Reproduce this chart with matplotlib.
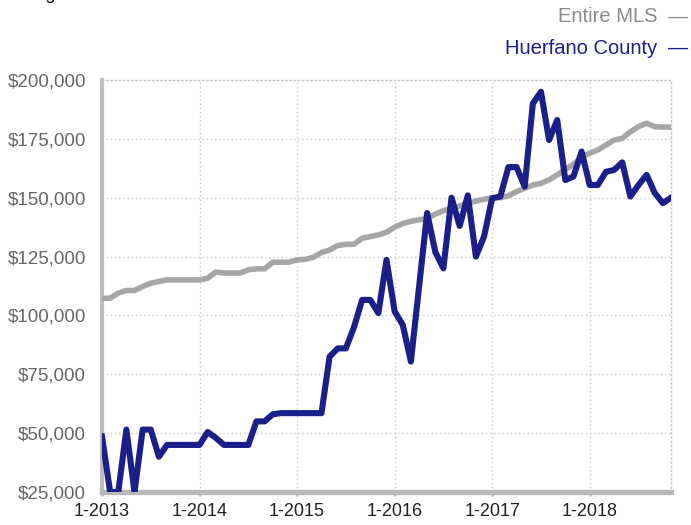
import numpy as np
import matplotlib
matplotlib.use("Agg")
import matplotlib.pyplot as plt
from matplotlib.ticker import FuncFormatter

plt.rcParams['font.family'] = ['Liberation Sans', 'DejaVu Sans']

# monthly values, 1-2013 .. 11-2018
entireMLS = [107300, 107300, 109500, 110600, 110600, 112300, 113700, 114400, 115100, 115100, 115100, 115100,
             115100, 115800, 118400, 118000, 118000, 118000, 119400, 119800, 119800, 122600, 122600, 122600,
             123600, 123800, 124700, 126700, 127800, 129700, 130200, 130200, 132800, 133500, 134200, 135300,
             137500, 139000, 140000, 140600, 141300, 143000, 144500, 145500, 146500, 147600, 148600, 149300,
             150000, 150000, 150800, 152600, 154000, 155400, 156100, 157600, 159700, 162000, 164200, 167200,
             168900, 170300, 172400, 174500, 175200, 178000, 180200, 181600, 180200, 180000, 180000]
huerfano = [48600, 25000, 25000, 51500, 25000, 51500, 51500, 40000, 45000, 45000, 45000, 45000,
            45000, 50500, 48000, 45000, 45000, 45000, 45000, 55000, 55000, 58000, 58500, 58500,
            58500, 58500, 58500, 58500, 82500, 86000, 86000, 95000, 106600, 106600, 101000, 123600,
            101700, 96000, 80400, 112000, 143500, 127000, 120000, 150000, 138000, 151000, 125000, 133500,
            149800, 150500, 163000, 163000, 154700, 190000, 195000, 174500, 183000, 157500, 159000, 169600,
            155400, 155400, 161000, 161800, 165000, 150500, 155400, 159700, 152000, 147700, 150000]
yearLabels = ['1-2013', '1-2014', '1-2015', '1-2016', '1-2017', '1-2018']

months = np.arange(len(entireMLS))
gray = '#a6a6a6'
navy = '#1b1f8a'

fig = plt.figure(figsize=(6.91, 5.25), dpi=100)
ax = fig.add_axes([102/691, 33/525, 569/691, 412/525])

ax.plot(months, entireMLS, color=gray, lw=4.0, solid_joinstyle='round', zorder=3)
ax.plot(months, huerfano, color=navy, lw=4.4, solid_joinstyle='round', zorder=4)

ax.set_xlim(0, len(months) - 1)
ax.set_ylim(25000, 200000)
ax.set_yticks(np.arange(25000, 200001, 25000))
ax.yaxis.set_major_formatter(FuncFormatter(lambda v, p: '${:,.0f}'.format(v)))
ax.set_xticks(np.arange(0, len(months), 12))
ax.set_xticklabels(yearLabels)

ax.grid(True, color='#c8c8c8', linestyle=(0, (1, 2)), lw=1)
ax.set_axisbelow(True)
for s in ['top', 'right']:
    ax.spines[s].set_color('#c8c8c8')
    ax.spines[s].set_linestyle((0, (1, 2)))
    ax.spines[s].set_linewidth(1)
ax.spines['left'].set_color('#bdbdbd')
ax.spines['left'].set_linewidth(3)
ax.spines['bottom'].set_color('#b8b8b8')
ax.spines['bottom'].set_linewidth(3.8)

ax.tick_params(axis='y', length=0, pad=11.5, labelsize=13.5, labelcolor='#666666')
ax.tick_params(axis='x', length=3, width=2, color='#bdbdbd', pad=5, labelsize=13, labelcolor='#222222')

# title cut off at top of the image, as in the source (only descenders show)
fig.text(0.0, 1 + 1/525, 'Rolling 12-Month Calculation', fontsize=13, color='#111111', va='baseline', ha='left')

# legend
fig.text(657/691, 1 - 17/525, 'Entire MLS', fontsize=14.5, color='#8c8c8c', ha='right', va='center')
fig.text(688/691, 1 - 17/525, '—', fontsize=14.5, color='#8c8c8c', ha='right', va='center')
fig.text(657/691, 1 - 48/525, 'Huerfano County', fontsize=14.5, color=navy, ha='right', va='center')
fig.text(688/691, 1 - 48/525, '—', fontsize=14.5, color=navy, ha='right', va='center')

fig.savefig('out.png', dpi=100)
